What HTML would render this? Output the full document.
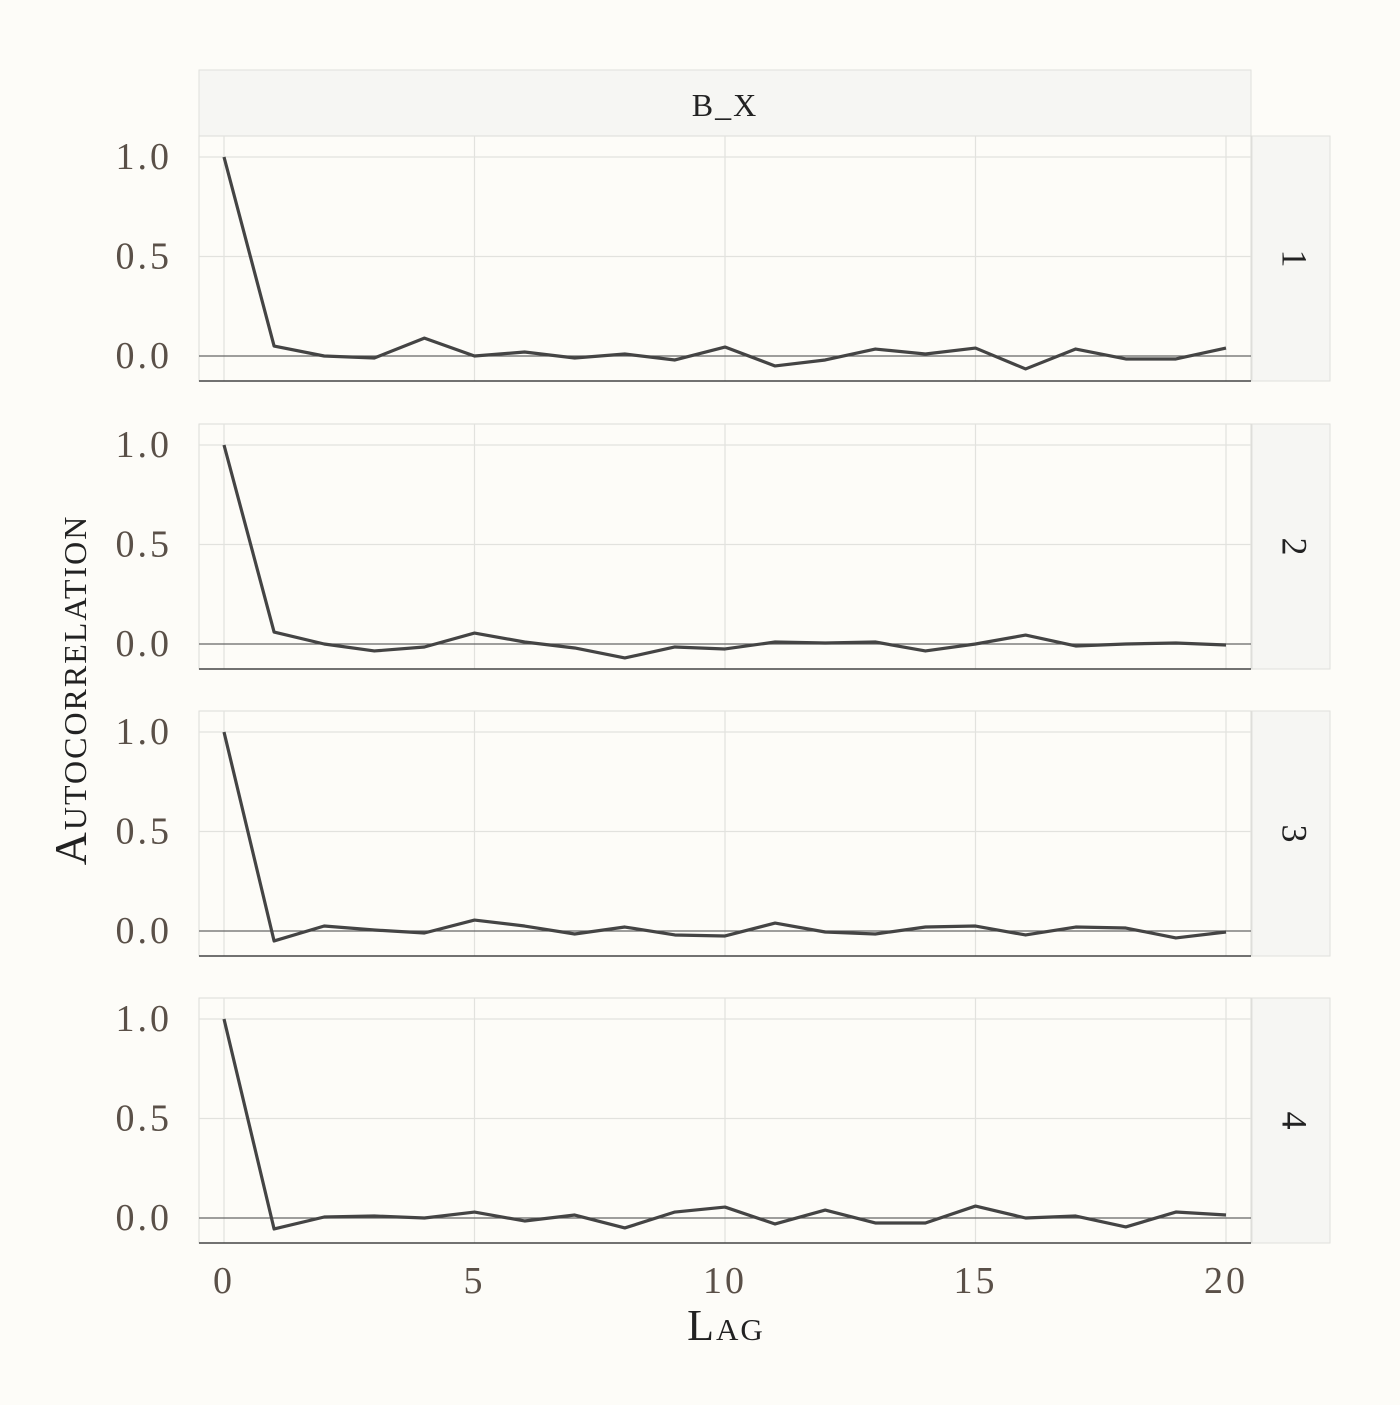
<!DOCTYPE html>
<html><head><meta charset="utf-8"><style>
html,body{margin:0;padding:0;background:#fdfcf8;}
svg text{font-family:"Liberation Serif",serif;}
</style></head><body>
<svg id="chart" width="1400" height="1400" xmlns="http://www.w3.org/2000/svg">
<rect width="1400" height="1400" fill="#fdfcf8"/>
</svg>
<script>
const lags=[0,1,2,3,4,5,6,7,8,9,10,11,12,13,14,15,16,17,18,19,20];
const panelLabels=["1","2","3","4"];
const acf1=[1,0.05,0,-0.01,0.09,0,0.02,-0.01,0.01,-0.02,0.045,-0.05,-0.02,0.035,0.01,0.04,-0.065,0.035,-0.015,-0.015,0.04];
const acf2=[1,0.06,0,-0.035,-0.015,0.055,0.01,-0.02,-0.07,-0.015,-0.025,0.01,0.005,0.01,-0.035,0,0.045,-0.01,0,0.005,-0.005];
const acf3=[1,-0.05,0.025,0.005,-0.01,0.055,0.025,-0.015,0.02,-0.02,-0.025,0.04,-0.005,-0.015,0.02,0.025,-0.02,0.02,0.015,-0.035,-0.005];
const acf4=[1,-0.055,0.005,0.01,0,0.03,-0.015,0.015,-0.05,0.03,0.055,-0.03,0.04,-0.025,-0.025,0.06,0,0.01,-0.045,0.03,0.015];
const series=[acf1,acf2,acf3,acf4];
const xTicks=[0,5,10,15,20];
const xTickLabels=["0","5","10","15","20"];
const yTicks=[0,0.5,1];
const yTickLabels=["0.0","0.5","1.0"];

const svg=document.getElementById('chart');
const NS="http://www.w3.org/2000/svg";
function mk(tag,attrs,parent){const e=document.createElementNS(NS,tag);for(const k in attrs)e.setAttribute(k,attrs[k]);(parent||svg).appendChild(e);return e;}
const X0=199,X1=1251;
const xs=v=>224+(v-0)*(1226-224)/20;
const panelTops=[136,424,711,998];
const PH=245;

const strip=mk('rect',{x:199,y:70,width:1052,height:66,fill:'#f6f6f3',stroke:'#e0e0dc'});


const st=mk('text',{x:725,y:116,'text-anchor':'middle','font-size':32,fill:'#222','letter-spacing':2});
st.textContent='B_X';



series.forEach((data,p)=>{
  const top=panelTops[p];
  const y0=top+220, ys=v=>y0-v*199;
  const g=mk('g',{});
  
  
  mk('rect',{x:X0,y:top,width:X1-X0,height:PH,fill:'#fdfcf8',stroke:'#dcdcd8'},g);
  xTicks.forEach(t=>mk('line',{x1:xs(t),x2:xs(t),y1:top,y2:top+PH,stroke:'#e2e2de','stroke-width':1.2},g));
  yTicks.forEach((t,i)=>{
    mk('line',{x1:X0,x2:X1,y1:ys(t),y2:ys(t),stroke:t===0?'#666':'#e2e2de','stroke-width':1.2},g);
    const tl=mk('text',{x:172,y:ys(t)+12,'text-anchor':'end','font-size':38,fill:'#5a5048','letter-spacing':3},g);
    tl.textContent=yTickLabels[i];
    
    
  });
  mk('line',{x1:X0,x2:X1,y1:top+PH,y2:top+PH,stroke:'#444','stroke-width':1.5},g);
  const pts=data.map((v,i)=>xs(lags[i])+','+ys(v)).join(' ');
  const pl=mk('polyline',{points:pts,fill:'none',stroke:'#444','stroke-width':3.2,'stroke-linejoin':'round'},g);
  
  
  const rs=mk('rect',{x:1252,y:top,width:78,height:PH,fill:'#f6f6f3',stroke:'#e0e0dc'},g);
  
  
  const cy=top+PH/2;
  const rl=mk('text',{x:1291,y:cy,'text-anchor':'middle','font-size':36,fill:'#222',transform:`rotate(90 1291 ${cy})`,'dominant-baseline':'middle'},g);
  rl.textContent=panelLabels[p];
  
  
});
xTicks.forEach((t,i)=>{
  const tl=mk('text',{x:xs(t),y:1293,'text-anchor':'middle','font-size':38,fill:'#5a5048','letter-spacing':3});
  tl.textContent=xTickLabels[i];
  
  
});
const xt=mk('text',{x:726,y:1340,'text-anchor':'middle','font-size':44,fill:'#222','font-variant':'small-caps','letter-spacing':2});
xt.textContent='Lag';


const yt=mk('text',{x:86,y:690,'text-anchor':'middle','font-size':46,fill:'#222','font-variant':'small-caps','letter-spacing':2,transform:'rotate(-90 86 690)'});
yt.textContent='Autocorrelation';


</script>
</body></html>
